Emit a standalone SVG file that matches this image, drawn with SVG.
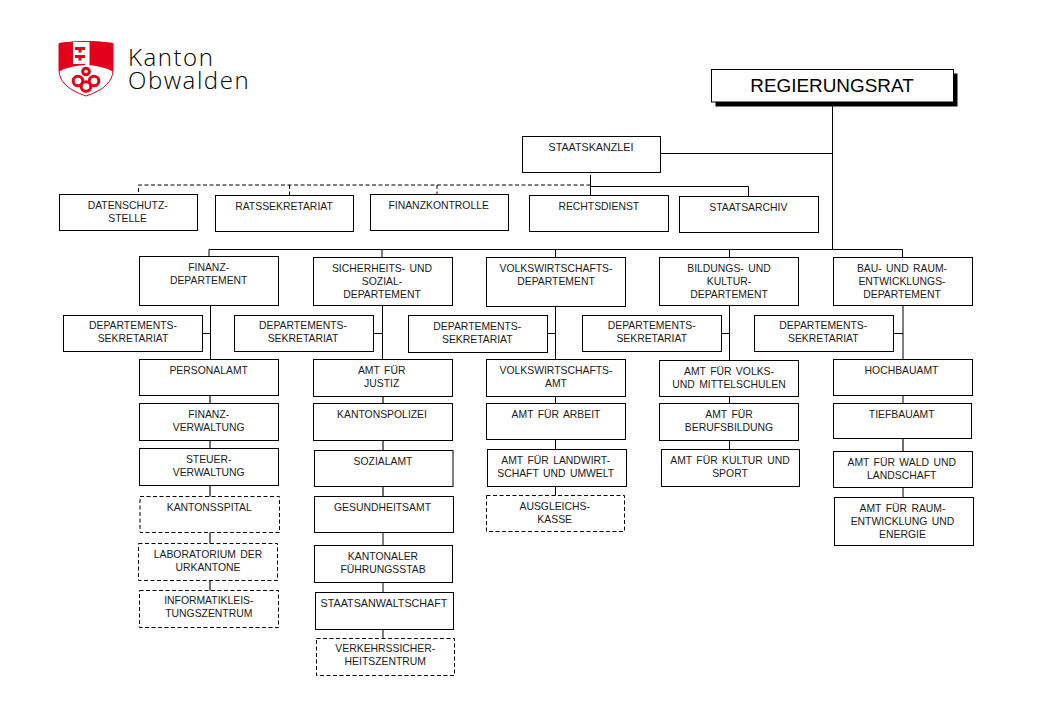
<svg xmlns="http://www.w3.org/2000/svg" width="1040" height="720" viewBox="0 0 1040 720">
<style>
.b{fill:#fff;stroke:#000;stroke-width:1}
.d{fill:#fff;stroke:#000;stroke-width:1;stroke-dasharray:4 2.5}
.c{fill:none;stroke:#000;stroke-width:1}
.g{fill:none;stroke:#333;stroke-width:1.4}
.h{fill:none;stroke:#000;stroke-width:1;stroke-dasharray:4 2.5}
text{font-family:"Liberation Sans",Arial,sans-serif;font-size:10.4px;word-spacing:1.5px;fill:#1a1a1a;text-anchor:middle}
.w{font-size:10.75px}
.t{font-size:18.9px;fill:#000;word-spacing:0}
.l{font-family:"Open Sans","Noto Sans",sans-serif;font-size:24px;font-weight:300;letter-spacing:1.55px;text-anchor:start;fill:#000;word-spacing:0}
</style>
<rect width="1040" height="720" fill="#fff"/>
<g id="logo">
<path d="M59 43.500Q86 39.500 113 43.500V70Q113 87 86 96Q59 87 59 70Z" fill="#fff" stroke="#e2001a" stroke-width="1"/>
<path d="M59 43Q86 39.500 113 43V71.500Q100 65 86 65Q72 65 59 71.500Z" fill="#e2001a"/>
<path d="M73 42H89.500V70H85V64H73Z" fill="#fff"/>
<path d="M75 47H85V50H81.500V52.500H78.500V50H75ZM75 55H85V58H81.500V60.500H78.500V58H75Z" fill="#e2001a"/>
<g fill="none" stroke="#e2001a" stroke-width="3">
<circle cx="86" cy="71.500" r="3.300"/>
<circle cx="78" cy="81" r="4.800"/>
<circle cx="94" cy="81" r="4.800"/>
<circle cx="86" cy="86.500" r="4.800"/>
</g>
<text class="l"><tspan x="128" y="65.500">Kanton</tspan><tspan x="128" y="88.500">Obwalden</tspan></text>
</g>
<g id="connectors">
<path class="c" d="M832.500 102V249.500M660 153.500H832.500M209 249.500H902.500M209 249.500V257M382 249.500V258M555.500 249.500V258M729.500 249.500V258M902.500 249.500V258"/>
<path class="c" d="M590.500 175V196M590.500 186.500H748.500V197"/>
<path class="h" d="M590.500 185H138.500V194M289.500 185V196M437 185V195"/>
<path class="c" d="M210.500 305V360M382.500 305V360M555.500 305V360M729.500 305V361M903 305V360"/>
<path class="c" d="M202 333.500H210.500M373 333.500H382.500M547 333.500H555.500M721 333.500H729.500M893 333.500H903"/>
<path class="g" d="M210 395V404M210 440V449M210 485V497M210 532V544M210 580V591"/>
<path class="g" d="M383 396V404M383 440V451M383 486V497"/>
<path class="c" d="M383 532V545M383 582V593M383 629V639"/>
<path class="c" d="M555.500 396V404M555.500 439V450M555.500 486V496"/>
<path class="c" d="M729.500 396V404M729.500 440V450"/>
<path class="c" d="M903 395V404M903 487V498"/>
<path class="g" d="M903 438V452"/>
</g>
<g id="regierungsrat"><rect x="715.500" y="73.500" width="242" height="33" fill="#000"/><rect class="b" x="711.500" y="69.500" width="242" height="32.500"/><text class="t" x="832" y="91.500">REGIERUNGSRAT</text></g>
<g id="staatskanzlei"><rect class="b" x="522.500" y="136.500" width="138" height="36"/><text class="w" x="591" y="151">STAATSKANZLEI</text></g>
<g id="datenschutz"><rect class="b" x="59.500" y="194.500" width="138" height="36"/><text x="127.700" y="209">DATENSCHUTZ-</text><text x="127.700" y="222">STELLE</text></g>
<g id="ratssekretariat"><rect class="b" x="215.500" y="195.500" width="138" height="36"/><text x="284" y="210">RATSSEKRETARIAT</text></g>
<g id="finanzkontrolle"><rect class="b" x="370.500" y="194.500" width="138" height="36"/><text x="438.700" y="209">FINANZKONTROLLE</text></g>
<g id="rechtsdienst"><rect class="b" x="529.500" y="195.500" width="139" height="36"/><text x="598.800" y="210">RECHTSDIENST</text></g>
<g id="staatsarchiv"><rect class="b" x="679.500" y="196.500" width="139" height="36"/><text x="748.300" y="211">STAATSARCHIV</text></g>
<g id="dep-finanz"><rect class="b" x="139.500" y="256.500" width="139" height="49"/><text x="208.700" y="271">FINANZ-</text><text x="208.700" y="284">DEPARTEMENT</text></g>
<g id="dep-sicherheit"><rect class="b" x="313.500" y="257.500" width="139" height="48"/><text x="382" y="272">SICHERHEITS- UND</text><text x="382" y="285">SOZIAL-</text><text x="382" y="298">DEPARTEMENT</text></g>
<g id="dep-volkswirtschaft"><rect class="b" x="486.500" y="257.500" width="139" height="49"/><text x="556" y="272">VOLKSWIRTSCHAFTS-</text><text x="556" y="285">DEPARTEMENT</text></g>
<g id="dep-bildung"><rect class="b" x="659.500" y="257.500" width="139" height="48"/><text x="729" y="272">BILDUNGS- UND</text><text x="729" y="285">KULTUR-</text><text x="729" y="298">DEPARTEMENT</text></g>
<g id="dep-bau"><rect class="b" x="833.500" y="257.500" width="139" height="48"/><text x="902" y="272">BAU- UND RAUM-</text><text x="902" y="285">ENTWICKLUNGS-</text><text x="902" y="298">DEPARTEMENT</text></g>
<g id="sek-1"><rect class="b" x="63.500" y="315.500" width="139" height="36"/><text x="133" y="329">DEPARTEMENTS-</text><text x="133" y="342">SEKRETARIAT</text></g>
<g id="sek-2"><rect class="b" x="234.500" y="315.500" width="139" height="36"/><text x="303" y="329">DEPARTEMENTS-</text><text x="303" y="342">SEKRETARIAT</text></g>
<g id="sek-3"><rect class="b" x="408.500" y="315.500" width="139" height="37"/><text x="477.300" y="330">DEPARTEMENTS-</text><text x="477.300" y="343">SEKRETARIAT</text></g>
<g id="sek-4"><rect class="b" x="582.500" y="315.500" width="139" height="36"/><text x="651.700" y="329">DEPARTEMENTS-</text><text x="651.700" y="342">SEKRETARIAT</text></g>
<g id="sek-5"><rect class="b" x="754.500" y="315.500" width="139" height="36"/><text x="823.300" y="329">DEPARTEMENTS-</text><text x="823.300" y="342">SEKRETARIAT</text></g>
<g id="personalamt"><rect class="b" x="139.500" y="359.500" width="139" height="36"/><text x="208.700" y="374">PERSONALAMT</text></g>
<g id="finanzverwaltung"><rect class="b" x="139.500" y="403.500" width="139" height="37"/><text x="208.700" y="418">FINANZ-</text><text x="208.700" y="431">VERWALTUNG</text></g>
<g id="steuerverwaltung"><rect class="b" x="139.500" y="448.500" width="139" height="37"/><text x="208.700" y="463">STEUER-</text><text x="208.700" y="476">VERWALTUNG</text></g>
<g id="kantonsspital"><rect class="d" x="140" y="496.500" width="139.500" height="36"/><text x="209.300" y="511">KANTONSSPITAL</text></g>
<g id="laboratorium"><rect class="d" x="138.500" y="543.500" width="139" height="37"/><text x="208" y="558">LABORATORIUM DER</text><text x="208" y="571">URKANTONE</text></g>
<g id="informatik"><rect class="d" x="139.500" y="590.500" width="139" height="37"/><text x="208.800" y="604">INFORMATIKLEIS-</text><text x="208.800" y="617">TUNGSZENTRUM</text></g>
<g id="justiz"><rect class="b" x="313.500" y="359.500" width="139" height="37"/><text x="381.700" y="374">AMT FÜR</text><text x="381.700" y="387">JUSTIZ</text></g>
<g id="kantonspolizei"><rect class="b" x="313.500" y="403.500" width="139" height="37"/><text x="382" y="418">KANTONSPOLIZEI</text></g>
<g id="sozialamt"><rect class="b" x="314.500" y="450.500" width="138.500" height="36"/><text x="383" y="465">SOZIALAMT</text></g>
<g id="gesundheitsamt"><rect class="b" x="314.500" y="496.500" width="139" height="36"/><text x="382.500" y="511">GESUNDHEITSAMT</text></g>
<g id="fuehrungsstab"><rect class="b" x="314.500" y="545.500" width="138" height="37"/><text x="383" y="560">KANTONALER</text><text x="383" y="573">FÜHRUNGSSTAB</text></g>
<g id="staatsanwaltschaft"><rect class="b" x="315.500" y="592.500" width="138" height="37"/><text class="w" x="384" y="607">STAATSANWALTSCHAFT</text></g>
<g id="verkehrssicherheit"><rect class="d" x="316.500" y="638.500" width="138" height="37"/><text x="385.300" y="652">VERKEHRSSICHER-</text><text x="385.300" y="665">HEITSZENTRUM</text></g>
<g id="volkswirtschaftsamt"><rect class="b" x="486.500" y="359.500" width="139" height="37"/><text x="556" y="374">VOLKSWIRTSCHAFTS-</text><text x="556" y="387">AMT</text></g>
<g id="arbeit"><rect class="b" x="486.500" y="403.500" width="139" height="36"/><text x="556" y="418">AMT FÜR ARBEIT</text></g>
<g id="landwirtschaft"><rect class="b" x="487.500" y="449.500" width="139" height="37"/><text x="555.700" y="464">AMT FÜR LANDWIRT-</text><text x="555.700" y="477">SCHAFT UND UMWELT</text></g>
<g id="ausgleichskasse"><rect class="d" x="486.500" y="495.500" width="138" height="36"/><text x="554.700" y="510">AUSGLEICHS-</text><text x="554.700" y="523">KASSE</text></g>
<g id="volksschulen"><rect class="b" x="659.500" y="360.500" width="139" height="36"/><text x="729" y="375">AMT FÜR VOLKS-</text><text x="729" y="388">UND MITTELSCHULEN</text></g>
<g id="berufsbildung"><rect class="b" x="659.500" y="403.500" width="139" height="37"/><text x="729" y="418">AMT FÜR</text><text x="729" y="431">BERUFSBILDUNG</text></g>
<g id="kultur-sport"><rect class="b" x="661.500" y="449.500" width="138" height="37"/><text x="730" y="464">AMT FÜR KULTUR UND</text><text x="730" y="477">SPORT</text></g>
<g id="hochbauamt"><rect class="b" x="833.500" y="359.500" width="139" height="36"/><text x="901.500" y="374">HOCHBAUAMT</text></g>
<g id="tiefbauamt"><rect class="b" x="833.500" y="403.500" width="138" height="35"/><text x="901.700" y="418">TIEFBAUAMT</text></g>
<g id="wald"><rect class="b" x="833.500" y="451.500" width="139" height="36"/><text x="901.700" y="466">AMT FÜR WALD UND</text><text x="901.700" y="479">LANDSCHAFT</text></g>
<g id="raum"><rect class="b" x="834.500" y="497.500" width="139" height="48"/><text x="902.500" y="512">AMT FÜR RAUM-</text><text x="902.500" y="525">ENTWICKLUNG UND</text><text x="902.500" y="538">ENERGIE</text></g>
</svg>
